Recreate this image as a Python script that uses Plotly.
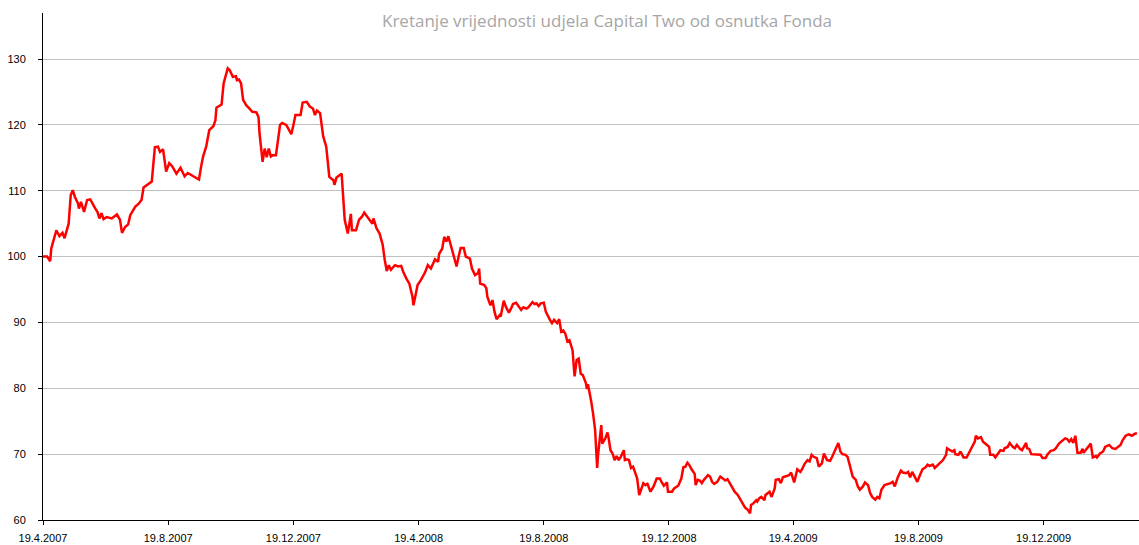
import pandas as pd
import plotly.graph_objects as go

# Fund launch date and unit-value series (days since launch, value)
launch_date = "2007-04-19"
days_since_launch = [
    0, 4, 7, 8, 13, 16, 19, 21, 25, 27, 29, 31, 34, 35, 37, 40, 43, 46, 51, 53,
    55, 57, 59, 62, 67, 72, 75, 77, 80, 83, 85, 90, 93, 96, 98, 103, 106, 109, 112, 114,
    117, 120, 123, 126, 130, 134, 138, 141, 146, 152, 154, 156, 159, 162, 166, 168, 169, 174, 176, 180,
    182, 185, 188, 189, 191, 193, 195, 198, 201, 204, 208, 210, 211, 214, 216, 218, 220, 222, 224, 227,
    231, 233, 237, 240, 242, 244, 246, 251, 253, 257, 260, 263, 265, 267, 270, 273, 276, 279, 283, 284,
    286, 291, 294, 297, 300, 301, 305, 308, 311, 313, 316, 318, 321, 322, 325, 328, 331, 333, 335, 337,
    339, 343, 346, 349, 351, 354, 357, 360, 361, 364, 365, 368, 370, 372, 375, 378, 382, 385, 386, 389,
    391, 393, 395, 399, 403, 405, 407, 410, 412, 416, 418, 421, 424, 425, 426, 430, 432, 433, 436, 438,
    440, 442, 445, 446, 449, 451, 454, 456, 458, 461, 464, 466, 468, 471, 473, 477, 479, 481, 483, 485,
    488, 490, 494, 496, 498, 501, 503, 505, 507, 509, 511, 513, 516, 517, 518, 520, 522, 524, 526, 529,
    530, 531, 532, 534, 536, 538, 540, 541, 544, 545, 548, 550, 551, 553, 555, 557, 559, 561, 563, 566,
    567, 569, 571, 573, 575, 577, 579, 581, 583, 585, 587, 589, 592, 595, 598, 601, 603, 605, 608, 609,
    613, 615, 619, 622, 624, 626, 628, 630, 632, 635, 636, 638, 640, 642, 644, 648, 650, 652, 654, 657,
    660, 662, 665, 667, 669, 671, 674, 677, 679, 682, 684, 687, 689, 690, 692, 695, 696, 698, 700, 703,
    704, 708, 710, 713, 714, 717, 719, 721, 724, 727, 729, 732, 735, 738, 740, 742, 745, 747, 749, 751,
    754, 756, 759, 761, 764, 767, 769, 771, 773, 775, 777, 779, 782, 784, 786, 789, 792, 794, 796, 799,
    801, 804, 806, 808, 811, 813, 815, 817, 820, 823, 826, 828, 830, 833, 836, 838, 841, 843, 845, 847,
    850, 852, 854, 857, 860, 862, 864, 867, 869, 872, 875, 877, 880, 881, 884, 886, 888, 889, 892, 894,
    897, 900, 902, 905, 908, 909, 911, 914, 916, 919, 922, 923, 926, 928, 930, 933, 936, 937, 940, 942,
    945, 947, 949, 952, 954, 956, 958, 959, 961, 963, 967, 969, 972, 974, 977, 979, 982, 985, 987, 990,
    993, 996, 998, 1000, 1002, 1004, 1006, 1008, 1011, 1013, 1014, 1017, 1019, 1021, 1023, 1026, 1027, 1030, 1033, 1035,
    1039, 1042, 1045, 1047, 1050, 1052, 1055, 1058, 1061, 1064, 1066,
]
unit_values = [
    100.0, 100.0, 99.3, 101.2, 104.0, 103.1, 103.6, 102.8, 105.0, 109.3, 110.1, 109.1, 108.1, 107.3, 108.3, 106.8, 108.6, 108.7, 107.3, 106.8,
    105.8, 106.6, 105.7, 106.0, 105.8, 106.4, 105.6, 103.6, 104.5, 104.9, 106.3, 107.6, 108.0, 108.6, 110.5, 111.0, 111.4, 116.6, 116.7, 115.9,
    116.3, 112.9, 114.2, 113.7, 112.6, 113.5, 112.2, 112.7, 112.2, 111.7, 113.6, 115.2, 116.7, 119.2, 119.8, 120.7, 122.6, 123.1, 126.3, 128.6,
    128.3, 127.3, 127.4, 126.8, 126.9, 126.3, 123.8, 123.0, 122.5, 122.0, 121.9, 121.2, 118.7, 114.4, 116.4, 115.1, 116.4, 115.2, 115.4, 115.4,
    120.0, 120.3, 120.0, 119.0, 118.6, 120.0, 121.5, 121.5, 123.4, 123.5, 122.8, 122.5, 121.5, 122.2, 121.8, 118.3, 116.7, 112.1, 111.6, 110.9,
    112.0, 112.6, 105.6, 103.5, 106.5, 104.0, 104.0, 105.6, 106.1, 106.7, 106.0, 105.7, 105.0, 105.8, 104.3, 103.5, 101.8, 99.5, 97.8, 98.7,
    98.0, 98.7, 98.5, 98.6, 97.7, 96.7, 95.9, 93.9, 92.6, 94.9, 95.7, 96.4, 97.0, 97.5, 98.7, 98.2, 99.6, 99.2, 100.4, 101.2,
    103.0, 102.3, 103.1, 100.7, 98.5, 100.0, 101.3, 101.3, 100.0, 99.7, 98.2, 97.2, 97.5, 98.2, 95.9, 95.7, 95.2, 93.9, 92.6, 93.4,
    91.6, 90.5, 91.1, 90.9, 93.3, 92.4, 91.5, 92.1, 92.8, 93.0, 92.4, 91.9, 92.3, 92.1, 92.3, 93.1, 92.8, 92.9, 92.5, 92.9,
    93.0, 91.6, 90.4, 89.9, 90.4, 89.9, 90.5, 88.6, 88.8, 88.3, 87.1, 87.3, 85.8, 83.5, 81.8, 84.3, 84.5, 82.2, 82.0, 80.8,
    79.9, 80.6, 79.9, 78.2, 76.2, 73.7, 67.9, 70.1, 74.4, 71.6, 72.4, 73.3, 72.6, 70.6, 70.1, 69.1, 69.7, 69.1, 69.6, 70.6,
    69.1, 69.2, 69.1, 67.9, 68.1, 67.1, 66.3, 63.8, 64.6, 65.6, 65.3, 65.5, 64.3, 65.1, 66.3, 66.3, 65.7, 65.2, 65.7, 64.3,
    64.3, 64.8, 65.2, 66.3, 68.0, 68.1, 68.7, 68.3, 67.7, 67.0, 65.3, 66.1, 66.0, 65.6, 66.1, 66.8, 66.6, 65.8, 65.5, 65.8,
    66.6, 66.3, 66.0, 66.2, 65.6, 65.2, 64.3, 63.8, 63.3, 62.5, 61.9, 61.5, 61.0, 62.3, 62.5, 63.0, 62.8, 63.3, 63.5, 63.0,
    63.8, 64.3, 63.5, 64.8, 66.1, 66.2, 65.6, 66.5, 66.7, 66.8, 67.2, 65.7, 67.7, 67.3, 67.8, 68.5, 69.1, 68.9, 69.9, 69.6,
    69.4, 68.1, 68.6, 70.1, 69.1, 69.0, 69.6, 70.4, 71.1, 71.7, 70.4, 70.0, 69.9, 69.6, 68.4, 66.6, 66.1, 65.1, 64.6, 65.1,
    65.7, 65.3, 64.1, 63.5, 63.1, 63.5, 63.3, 64.6, 65.3, 65.4, 65.6, 65.8, 65.1, 66.5, 67.5, 67.2, 67.1, 67.3, 66.5, 67.3,
    66.3, 65.8, 66.6, 67.7, 68.0, 68.4, 68.2, 68.4, 67.9, 68.4, 68.9, 69.1, 69.9, 70.9, 70.6, 70.4, 70.6, 70.0, 69.9, 70.4,
    69.5, 69.5, 70.1, 70.9, 71.9, 72.8, 72.4, 72.6, 71.9, 71.5, 71.1, 69.9, 69.9, 69.5, 69.9, 70.6, 70.5, 70.9, 71.1, 71.7,
    71.1, 70.9, 71.4, 70.8, 70.6, 71.1, 71.7, 70.9, 70.8, 70.0, 70.0, 69.9, 69.9, 69.4, 69.4, 70.0, 70.5, 70.6, 70.9, 71.6,
    72.0, 72.4, 72.3, 71.9, 72.3, 71.7, 72.8, 70.2, 70.2, 70.8, 70.2, 70.8, 71.1, 71.6, 69.5, 69.7, 69.5, 70.1, 70.4, 71.1,
    71.4, 70.9, 70.8, 71.1, 71.4, 72.1, 72.8, 73.0, 72.8, 73.1, 73.2,
]

tick_dates = ["2007-04-19", "2007-08-19", "2007-12-19", "2008-04-19", "2008-08-19",
              "2008-12-19", "2009-04-19", "2009-08-19", "2009-12-19"]
tick_labels = ["19.4.2007", "19.8.2007", "19.12.2007", "19.4.2008", "19.8.2008",
               "19.12.2008", "19.4.2009", "19.8.2009", "19.12.2009"]
y_ticks = [60, 70, 80, 90, 100, 110, 120, 130]
title_text = "Kretanje vrijednosti udjela Capital Two od osnutka Fonda"

dates = pd.Timestamp(launch_date) + pd.to_timedelta(days_since_launch, unit="D")

fig = go.Figure()
fig.add_trace(go.Scatter(
    x=dates, y=unit_values, mode="lines",
    line=dict(color="#ff0000", width=2.5),
    hoverinfo="x+y", showlegend=False,
))

fig.update_layout(
    width=1139, height=545,
    margin=dict(l=43, r=0, t=13, b=25),
    paper_bgcolor="white", plot_bgcolor="white",
    font=dict(family="Liberation Sans, Arial, sans-serif", size=11, color="#000000"),
    annotations=[dict(
        text=title_text, xref="paper", yref="paper", x=0.5146, y=0.986,
        xanchor="center", yanchor="middle", showarrow=False,
        font=dict(family="Open Sans, sans-serif", size=17, color="#a6a6a6"),
    )],
)
fig.update_xaxes(
    type="date", range=["2007-04-19", "2010-03-22"],
    tickmode="array", tickvals=tick_dates, ticktext=tick_labels,
    showgrid=False, zeroline=False,
    showline=True, linecolor="#000000", linewidth=1,
    ticks="outside", ticklen=4, tickcolor="#000000", ticklabelstandoff=4,
)
fig.update_yaxes(
    range=[60, 137], tickmode="array", tickvals=y_ticks,
    showgrid=True, gridcolor="#c0c0c0", gridwidth=1, zeroline=False,
    showline=True, linecolor="#000000", linewidth=1,
    ticks="outside", ticklen=4, tickcolor="#000000", ticklabelstandoff=10,
)

fig.write_html(
    "out.html",
    config={"displayModeBar": False},
    post_script="document.body.style.margin='0';document.body.style.overflow='hidden';",
)
